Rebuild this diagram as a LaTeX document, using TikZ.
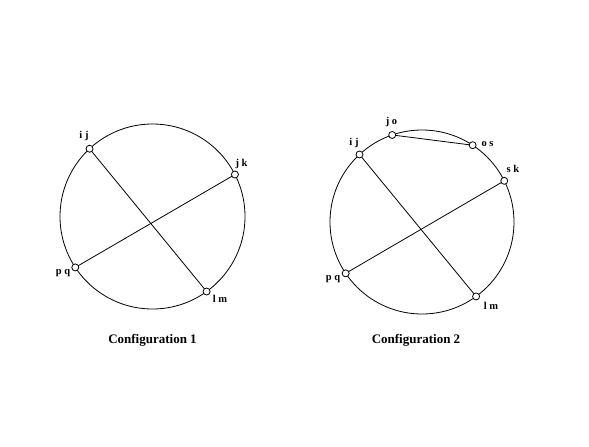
\documentclass[tikz,border=0pt]{standalone}
\usepackage{fontspec}
\setmainfont{Liberation Serif}
\begin{document}
\begin{tikzpicture}[x=1pt,y=-1pt,
  ring/.style={draw,line width=0.8pt},
  chord/.style={draw,line width=0.8pt},
  pin/.style={circle,draw,fill=white,line width=0.8pt,minimum size=7pt,inner sep=0pt},
  lbl/.style={font=\fontsize{10.5}{12}\selectfont\bfseries,inner sep=0pt},
  captext/.style={font=\fontsize{13}{15}\selectfont\bfseries,inner sep=0pt}]
\useasboundingbox (0,0) rectangle (589,447);
% Configuration 1 (angles measured with y pointing down)
\coordinate (c1) at (152.5,216.5);
\draw[ring] (c1) circle (92.5);
\path (c1) ++(-132.9:92.5) coordinate (a1);
\path (c1) ++(-27:92.5) coordinate (b1);
\path (c1) ++(-213.4:92.5) coordinate (p1);
\path (c1) ++(54.2:92.5) coordinate (l1);
\draw[chord] (a1) -- (l1);
\draw[chord] (p1) -- (b1);
\node[pin] (ij1) at (a1) {};
\node[pin] (jk1) at (b1) {};
\node[pin] (pq1) at (p1) {};
\node[pin] (lm1) at (l1) {};
\node[lbl] (tij1) at (84,136) {i j};
\node[lbl] (tjk1) at (241.5,164) {j k};
\node[lbl] (tpq1) at (63,273) {p q};
\node[lbl] (tlm1) at (220,299) {l m};
\node[captext] (cap1) at (152.5,340) {Configuration 1};
% Configuration 2
\coordinate (c2) at (422,222);
\draw[ring] (c2) circle (92);
\path (c2) ++(-132.8:92) coordinate (a2);
\path (c2) ++(-26.6:92) coordinate (b2);
\path (c2) ++(-213.9:92) coordinate (p2);
\path (c2) ++(54:92) coordinate (l2);
\path (c2) ++(-108.9:92) coordinate (o2);
\path (c2) ++(-56.6:92) coordinate (s2);
\draw[chord] (a2) -- (l2);
\draw[chord] (p2) -- (b2);
\draw[chord] (o2) -- (s2);
\node[pin] (ij2) at (a2) {};
\node[pin] (sk2) at (b2) {};
\node[pin] (pq2) at (p2) {};
\node[pin] (lm2) at (l2) {};
\node[pin] (jo2) at (o2) {};
\node[pin] (os2) at (s2) {};
\node[lbl] (tjo2) at (391.5,121.5) {j o};
\node[lbl] (tos2) at (487.5,144) {o s};
\node[lbl] (tij2) at (354,142.5) {i j};
\node[lbl] (tsk2) at (513,169) {s k};
\node[lbl] (tpq2) at (333,279) {p q};
\node[lbl] (tlm2) at (491,306) {l m};
\node[captext] (cap2) at (416,340) {Configuration 2};
\end{tikzpicture}
\end{document}
